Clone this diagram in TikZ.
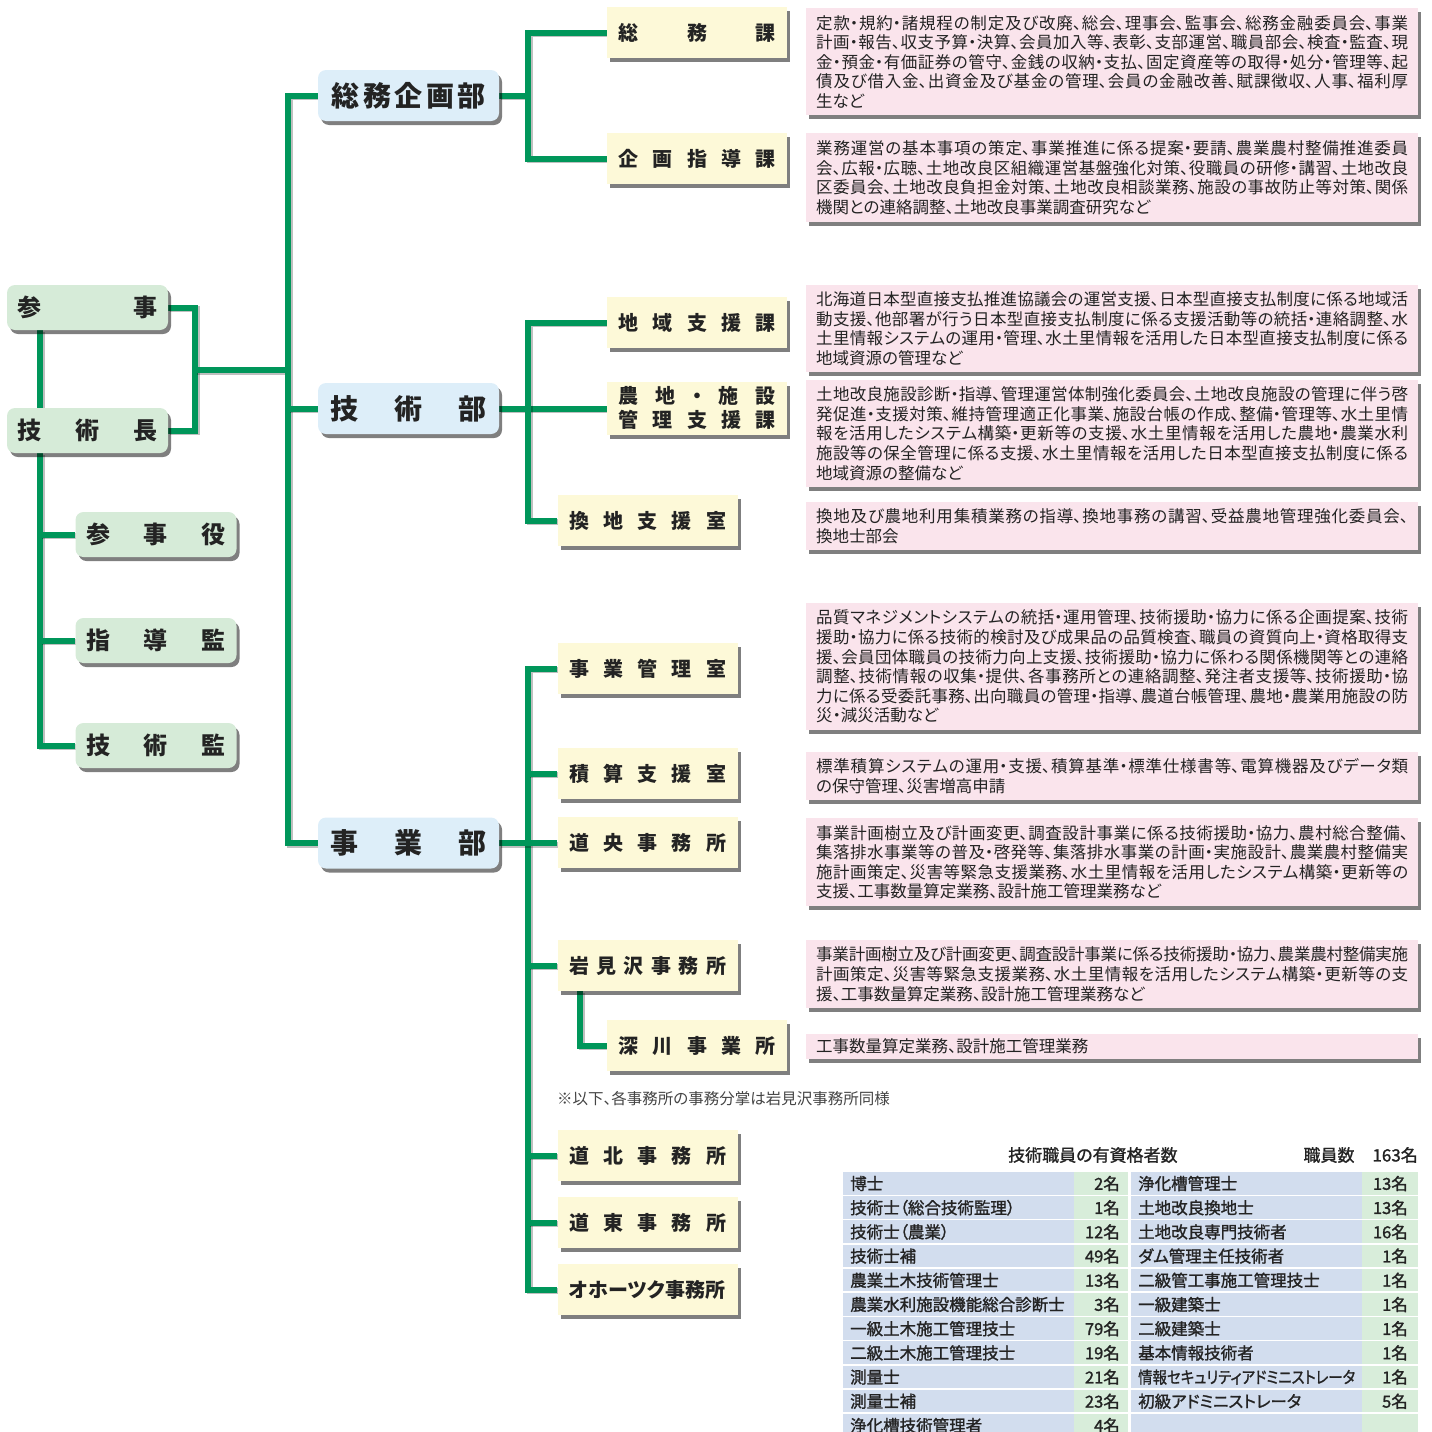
\documentclass[tikz,border=0pt]{standalone}
\usepackage{fontspec}
\usepackage{graphicx}
\setmainfont{Noto Sans CJK JP}[RawFeature={+palt}]
\newfontfamily\jpmed{Noto Sans CJK JP}[RawFeature={+palt},FakeBold=1.3]
\usetikzlibrary{shadows,backgrounds,calc}
\XeTeXlinebreaklocale "ja"
\XeTeXlinebreakskip=0pt plus 2pt minus 0.7pt
\definecolor{lineg}{RGB}{0,150,90}
\definecolor{leftfill}{RGB}{214,235,216}
\definecolor{deptfill}{RGB}{221,238,249}
\definecolor{secfill}{RGB}{253,249,216}
\definecolor{descfill}{RGB}{250,228,236}
\definecolor{tabblue}{RGB}{210,221,238}
\definecolor{tabgreen}{RGB}{216,237,218}
\definecolor{ink}{RGB}{35,35,35}
\newcommand\spreadlbl[2]{\hbox to #1{#2}}
\newcommand\infosec{\resizebox{217pt}{\height}{情報セキュリティアドミニストレータ}}
\newcommand\desctext[1]{\parbox{592pt}{\fontsize{16.5}{19.6}\selectfont #1}}
\tikzset{
  shad/.style={drop shadow={shadow xshift=3pt,shadow yshift=-4pt,opacity=0.5,fill=black}},
  conn/.style={draw=lineg,line width=6pt,
    preaction={draw=black,opacity=0.25,line width=6pt,transform canvas={shift={(1.5pt,-1.5pt)}}}},
  leftbox/.style={shad,fill=leftfill,rounded corners=8pt,minimum width=161pt,minimum height=45pt,
    inner sep=0pt,text=ink,font=\fontsize{24}{28}\selectfont\bfseries},
  deptbox/.style={shad,fill=deptfill,rounded corners=8pt,minimum width=181pt,minimum height=51pt,
    inner sep=0pt,text=ink,font=\fontsize{28}{32}\selectfont\bfseries},
  secbox/.style={shad,fill=secfill,minimum width=180pt,minimum height=51pt,
    inner sep=0pt,text=ink,font=\fontsize{20}{24}\selectfont\bfseries},
  descbox/.style={shad,fill=descfill,anchor=north west,minimum width=612pt,inner xsep=10pt,
    inner ysep=0pt,text=ink},
  tabtxt/.style={inner sep=0pt,text=ink,font=\fontsize{16.5}{20}\selectfont\jpmed}
}
\begin{document}
\begin{tikzpicture}[x=1pt,y=-1pt]
\useasboundingbox (0,0) rectangle (1432,1432);
% left column
\node[leftbox] (sanji) at (87.5,307.5) {\spreadlbl{140pt}{参\hfill 事}};
\node[leftbox] (gijutsucho) at (87.5,430.5) {\spreadlbl{140pt}{技\hfill 術\hfill 長}};
\node[leftbox] (sanjiyaku) at (156,534.5) {\spreadlbl{140pt}{参\hfill 事\hfill 役}};
\node[leftbox] (shidokan) at (156,640.5) {\spreadlbl{140pt}{指\hfill 導\hfill 監}};
\node[leftbox] (gijutsukan) at (156,745.5) {\spreadlbl{140pt}{技\hfill 術\hfill 監}};
% departments
\node[deptbox] (somukikaku) at (408.5,95.5) {\spreadlbl{154pt}{総\hfill 務\hfill 企\hfill 画\hfill 部}};
\node[deptbox] (gijutsubu) at (408.5,408.5) {\spreadlbl{156pt}{技\hfill 術\hfill 部}};
\node[deptbox] (jigyobu) at (408.5,843) {\spreadlbl{156pt}{事\hfill 業\hfill 部}};
% sections
\node[secbox] (somuka) at (697,32.5) {\spreadlbl{157pt}{総\hfill 務\hfill 課}};
\node[secbox] (kikaku) at (697,158.5) {\spreadlbl{157pt}{企\hfill 画\hfill 指\hfill 導\hfill 課}};
\node[secbox] (chiiki) at (697,322.5) {\spreadlbl{157pt}{地\hfill 域\hfill 支\hfill 援\hfill 課}};
\node[secbox,minimum height=53pt] (nochi) at (697,408) {\vbox{\spreadlbl{157pt}{農\hfill 地\hfill ・\hfill 施\hfill 設}\spreadlbl{157pt}{管\hfill 理\hfill 支\hfill 援\hfill 課}}};
\node[secbox] (kanchi) at (647.5,520.5) {\spreadlbl{157pt}{換\hfill 地\hfill 支\hfill 援\hfill 室}};
\node[secbox] (jigyokanri) at (647.5,668.5) {\spreadlbl{157pt}{事\hfill 業\hfill 管\hfill 理\hfill 室}};
\node[secbox] (sekisan) at (647.5,773.5) {\spreadlbl{157pt}{積\hfill 算\hfill 支\hfill 援\hfill 室}};
\node[secbox] (doo) at (647.5,842.5) {\spreadlbl{157pt}{道\hfill 央\hfill 事\hfill 務\hfill 所}};
\node[secbox] (iwamizawa) at (647.5,965.5) {\spreadlbl{157pt}{岩\hfill 見\hfill 沢\hfill 事\hfill 務\hfill 所}};
\node[secbox] (fukagawa) at (697,1045.5) {\spreadlbl{157pt}{深\hfill 川\hfill 事\hfill 業\hfill 所}};
\node[secbox] (dohoku) at (647.5,1155.5) {\spreadlbl{157pt}{道\hfill 北\hfill 事\hfill 務\hfill 所}};
\node[secbox] (doto) at (647.5,1222.5) {\spreadlbl{157pt}{道\hfill 東\hfill 事\hfill 務\hfill 所}};
\node[secbox] (okhotsk) at (647.5,1289.5) {\spreadlbl{157pt}{オ\hfil ホ\hfil ー\hfil ツ\hfil ク\hfil 事\hfil 務\hfil 所}};
% descriptions
\node[descbox,minimum height=107pt] (d1) at (806,8) {\desctext{定款・規約・諸規程の制定及び改廃、総会、理事会、監事会、総務金融委員会、事業\linebreak 計画・報告、収支予算・決算、会員加入等、表彰、支部運営、職員部会、検査・監査、現\linebreak 金・預金・有価証券の管守、金銭の収納・支払、固定資産等の取得・処分・管理等、起\linebreak 債及び借入金、出資金及び基金の管理、会員の金融改善、賦課徴収、人事、福利厚\linebreak 生など}};
\node[descbox,minimum height=89pt] (d2) at (806,133) {\desctext{業務運営の基本事項の策定、事業推進に係る提案・要請、農業農村整備推進委員\linebreak 会、広報・広聴、土地改良区組織運営基盤強化対策、役職員の研修・講習、土地改良\linebreak 区委員会、土地改良負担金対策、土地改良相談業務、施設の事故防止等対策、関係\linebreak 機関との連絡調整、土地改良事業調査研究など}};
\node[descbox,minimum height=87pt] (d3) at (806,285) {\desctext{北海道日本型直接支払推進協議会の運営支援、日本型直接支払制度に係る地域活\linebreak 動支援、他部署が行う日本型直接支払制度に係る支援活動等の統括・連絡調整、水\linebreak 土里情報システムの運用・管理、水土里情報を活用した日本型直接支払制度に係る\linebreak 地域資源の管理など}};
\node[descbox,minimum height=107pt] (d4) at (806,380) {\desctext{土地改良施設診断・指導、管理運営体制強化委員会、土地改良施設の管理に伴う啓\linebreak 発促進・支援対策、維持管理適正化事業、施設台帳の作成、整備・管理等、水土里情\linebreak 報を活用したシステム構築・更新等の支援、水土里情報を活用した農地・農業水利\linebreak 施設等の保全管理に係る支援、水土里情報を活用した日本型直接支払制度に係る\linebreak 地域資源の整備など}};
\node[descbox,minimum height=48pt] (d5) at (806,502) {\desctext{換地及び農地利用集積業務の指導、換地事務の講習、受益農地管理強化委員会、\linebreak 換地士部会}};
\node[descbox,minimum height=127pt] (d6) at (806,603) {\desctext{品質マネジメントシステムの統括・運用管理、技術援助・協力に係る企画提案、技術\linebreak 援助・協力に係る技術的検討及び成果品の品質検査、職員の資質向上・資格取得支\linebreak 援、会員団体職員の技術力向上支援、技術援助・協力に係わる関係機関等との連絡\linebreak 調整、技術情報の収集・提供、各事務所との連絡調整、発注者支援等、技術援助・協\linebreak 力に係る受委託事務、出向職員の管理・指導、農道台帳管理、農地・農業用施設の防\linebreak 災・減災活動など}};
\node[descbox,minimum height=48pt] (d7) at (806,752) {\desctext{標準積算システムの運用・支援、積算基準・標準仕様書等、電算機器及びデータ類\linebreak の保守管理、災害増高申請}};
\node[descbox,minimum height=88pt] (d8) at (806,818) {\desctext{事業計画樹立及び計画変更、調査設計事業に係る技術援助・協力、農村総合整備、\linebreak 集落排水事業等の普及・啓発等、集落排水事業の計画・実施設計、農業農村整備実\linebreak 施計画策定、災害等緊急支援業務、水土里情報を活用したシステム構築・更新等の\linebreak 支援、工事数量算定業務、設計施工管理業務など}};
\node[descbox,minimum height=68pt] (d9) at (806,940) {\desctext{事業計画樹立及び計画変更、調査設計事業に係る技術援助・協力、農業農村整備実施\linebreak 計画策定、災害等緊急支援業務、水土里情報を活用したシステム構築・更新等の支\linebreak 援、工事数量算定業務、設計施工管理業務など}};
\node[descbox,minimum height=25pt] (d10) at (806,1034) {\desctext{工事数量算定業務、設計施工管理業務}};
% note
\node[anchor=west,inner sep=0pt,text=ink!85,font=\fontsize{15.5}{18}\selectfont] (note) at (557,1099) {※以下、各事務所の事務分掌は岩見沢事務所同様};
% connectors
\coordinate (lx) at (40,0);
\coordinate (jx) at (195,370);
\coordinate (tx) at (288,0);
\coordinate (bx) at (528,0);
\coordinate (fx) at (580,0);
\begin{scope}[on background layer]
\draw[conn] (sanji.south -| lx) -- (gijutsucho.north -| lx);
\draw[conn] (gijutsucho.south -| lx) |- (gijutsukan.west);
\draw[conn] (sanjiyaku.west -| lx) -- (sanjiyaku.west);
\draw[conn] (shidokan.west -| lx) -- (shidokan.west);
\draw[conn] (sanji.east) -| (jx) |- (gijutsucho.east);
\draw[conn] (jx) -- (jx -| tx);
\draw[conn] (somukikaku.west) -| (tx |- jigyobu.west) -- (jigyobu.west);
\draw[conn] (gijutsubu.west -| tx) -- (gijutsubu.west);
\draw[conn] (somukikaku.east) -- (somukikaku.east -| bx);
\draw[conn] (somuka.west) -| (bx |- kikaku.west) -- (kikaku.west);
\draw[conn] (gijutsubu.east) -- (gijutsubu.east -| nochi.west);
\draw[conn] (chiiki.west) -| (bx |- kanchi.west) -- (kanchi.west);
\draw[conn] (jigyokanri.west) -| (bx |- okhotsk.west) -- (okhotsk.west);
\draw[conn] (jigyobu.east) -- (jigyobu.east -| doo.west);
\foreach \n in {sekisan,iwamizawa,dohoku,doto}
  \draw[conn] (bx |- \n.west) -- (\n.west);
\draw[conn] (iwamizawa.south -| fx) |- (fukagawa.west);
\end{scope}
% table
\node[tabtxt,anchor=west,font=\fontsize{17}{20}\selectfont\jpmed] (ttl) at (1008,1155) {技術職員の有資格者数};
\node[tabtxt,anchor=east,font=\fontsize{17}{20}\selectfont\jpmed] (staff) at (1418,1155) {職員数\hspace{18pt}163名};
\begin{scope}
\clip (0,0) rectangle (1432,1432);
\foreach \i/\a/\b/\c/\d in {0/博士/2名/浄化槽管理士/13名,
  1/技術士（総合技術監理）/1名/土地改良換地士/13名,
  2/技術士（農業）/12名/土地改良専門技術者/16名,
  3/技術士補/49名/ダム管理主任技術者/1名,
  4/農業土木技術管理士/13名/二級管工事施工管理技士/1名,
  5/農業水利施設機能総合診断士/3名/一級建築士/1名,
  6/一級土木施工管理技士/79名/二級建築士/1名,
  7/二級土木施工管理技士/19名/基本情報技術者/1名,
  8/測量士/21名/\infosec/1名,
  9/測量士補/23名/初級アドミニストレータ/5名,
  10/浄化槽技術管理者/4名/{}/{}}{
  \pgfmathsetmacro\ty{1172+24.2*\i}
  \fill[tabblue] (843,\ty) rectangle (1074,{\ty+22.5});
  \fill[tabgreen] (1074,\ty) rectangle (1128,{\ty+22.5});
  \fill[tabblue] (1130.5,\ty) rectangle (1362,{\ty+22.5});
  \fill[tabgreen] (1362,\ty) rectangle (1418,{\ty+22.5});
  \node[tabtxt,anchor=west] (ta\i) at (850,{\ty+11.5}) {\a};
  \node[tabtxt,anchor=east] (tb\i) at (1120,{\ty+11.5}) {\b};
  \node[tabtxt,anchor=west] (tc\i) at (1138,{\ty+11.5}) {\c};
  \node[tabtxt,anchor=east] (td\i) at (1408,{\ty+11.5}) {\d};
}
\end{scope}
\end{tikzpicture}
\end{document}
